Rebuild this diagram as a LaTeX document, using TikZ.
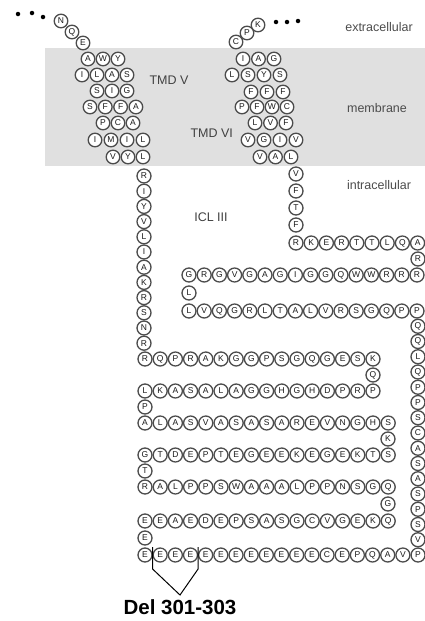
\documentclass[tikz,border=0pt]{standalone}
\usepackage{fontspec}
\setmainfont{Liberation Sans}
\usepackage{tikz}
\usetikzlibrary{calc}

% one row / one column of residues: [style]{name}{y or x}{start}{step}{letters}
\newcommand{\resrow}[6][res]{%
  \foreach \lt [count=\i] in {#6}
    \node[#1] (#2\i) at ({#4+(\i-1)*(#5)},#3) {\lt};}
\newcommand{\rescol}[6][res]{%
  \foreach \lt [count=\i] in {#6}
    \node[#1] (#2\i) at (#3,{#4+(\i-1)*(#5)}) {\lt};}

\begin{document}
\begin{tikzpicture}[x=1pt,y=-1pt,
    res/.style={circle,draw=black!70,line width=1.3pt,fill=white,inner sep=0pt,
      minimum size=14pt,font=\fontsize{8.5}{8.5}\selectfont,text=black!90},
    tmres/.style={res,minimum size=13.6pt},
    side/.style={font=\fontsize{12.5}{13}\selectfont,text=black!70},
    tmd/.style={font=\fontsize{12.5}{13}\selectfont,text=black!75},
    dot/.style={circle,fill=black,inner sep=0pt,minimum size=4.5pt}]
  \useasboundingbox (0,0) rectangle (425,621);
  % membrane
  \fill[black!12] (45,48) rectangle (425,166);
  \node[side] (ext) at (379,27) {extracellular};
  \node[side] (mem) at (377,108) {membrane};
  \node[side] (intr) at (379,185) {intracellular};
  \node[tmd,anchor=west] (tmdv) at (146,80) {TMD V};
  \node[tmd,anchor=west] (tmdvi) at (187,133) {TMD VI};
  \node[tmd] (icl) at (211,217) {ICL III};

  % TMD V
  \node[dot] (da1) at (18,14) {};
  \node[dot] (da2) at (32,13) {};
  \node[dot] (da3) at (43,17) {};
  \node[tmres] (nt1) at (61,21) {N};
  \node[tmres] (nt2) at (72,32) {Q};
  \node[tmres] (nt3) at (83,43) {E};
  \resrow[tmres]{tva}{59}{88}{15}{A,W,Y}
  \resrow[tmres]{tvb}{75}{82}{15}{I,L,A,S}
  \resrow[tmres]{tvc}{91}{97}{15}{S,I,G}
  \resrow[tmres]{tvd}{107}{90}{15.3}{S,F,F,A}
  \resrow[tmres]{tve}{123}{103}{15}{P,C,A}
  \resrow[tmres]{tvf}{140}{95}{16}{I,M,I,L}
  \resrow[tmres]{tvg}{157}{113}{15}{V,Y,L}

  % TMD VI
  \node[dot] (db1) at (276,22) {};
  \node[dot] (db2) at (287,22) {};
  \node[dot] (db3) at (298,21) {};
  \node[tmres] (ct1) at (236,42) {C};
  \node[tmres] (ct2) at (247,33) {P};
  \node[tmres] (ct3) at (258,25) {K};
  \resrow[tmres]{twa}{59}{243}{15.5}{I,A,G}
  \resrow[tmres]{twb}{75}{232}{16}{L,S,Y,S}
  \resrow[tmres]{twc}{92}{251}{16}{F,F,F}
  \resrow[tmres]{twd}{107}{242}{15}{P,F,W,C}
  \resrow[tmres]{twe}{123}{255}{15.5}{L,V,F}
  \resrow[tmres]{twf}{140}{248}{16}{V,G,I,V}
  \resrow[tmres]{twg}{157}{260}{15.5}{V,A,L}

  % ICL III, left strand
  \rescol{ca}{144}{176}{15.2}{R,I,Y,V,L,I,A,K,R,S,N,R}
  \resrow{ra}{359}{145}{15.2}{R,Q,P,R,A,K,G,G,P,S,G,Q,G,E,S,K}
  \node[res] (ta) at (373,375) {Q};
  \resrow{rb}{391}{145}{15.2}{L,K,A,S,A,L,A,G,G,H,G,H,D,P,R,P}
  \node[res] (tb) at (145,407) {P};
  \resrow{rc}{423}{145}{15.2}{A,L,A,S,V,A,S,A,S,A,R,E,V,N,G,H,S}
  \node[res] (tc) at (388,439) {K};
  \resrow{rd}{455}{145}{15.2}{G,T,D,E,P,T,E,G,E,E,K,E,G,E,K,T,S}
  \node[res] (td) at (145,471) {T};
  \resrow{re}{487}{145}{15.2}{R,A,L,P,P,S,W,A,A,A,L,P,P,N,S,G,Q}
  \node[res] (te) at (388,504) {G};
  \resrow{rf}{521}{145}{15.2}{E,E,A,E,D,E,P,S,A,S,G,C,V,G,E,K,Q}
  \node[res] (tf) at (145,538) {E};
  \resrow{rg}{555}{145}{15.17}{E,E,E,E,E,E,E,E,E,E,E,E,C,E,P,Q,A,V,P}

  % ICL III, right strand
  \rescol{cb}{418}{326.25}{15.25}{Q,Q,L,Q,P,P,S,C,A,S,A,S,P,S,V}
  \resrow{rh}{311}{189}{15.2}{L,V,Q,G,R,L,T,A,L,V,R,S,G,Q,P,P}
  \node[res] (th) at (189,293) {L};
  \resrow{ri}{275}{189}{15.2}{G,R,G,V,G,A,G,I,G,G,Q,W,W,R,R,R}
  \node[res] (ti) at (418,259) {R};
  \resrow{rj}{243}{296}{15.2}{R,K,E,R,T,T,L,Q,A}
  \rescol{cc}{296}{174}{17}{V,F,T,F}

  % Del 301-303
  \node[font=\fontsize{20.5}{21}\bfseries\selectfont] (del) at (180,607) {Del 301-303};
  \coordinate (apex) at (180,595);
  \coordinate (cut1) at ($(rg1)!.5!(rg2)$);
  \coordinate (cut2) at ($(rg4)!.5!(rg5)$);
  \draw[line width=1pt] ($(cut1)+(0,-8)$) -- ($(cut1)+(0,14)$) -- (apex)
    -- ($(cut2)+(0,14)$) -- ($(cut2)+(0,-8)$);
\end{tikzpicture}
\end{document}
